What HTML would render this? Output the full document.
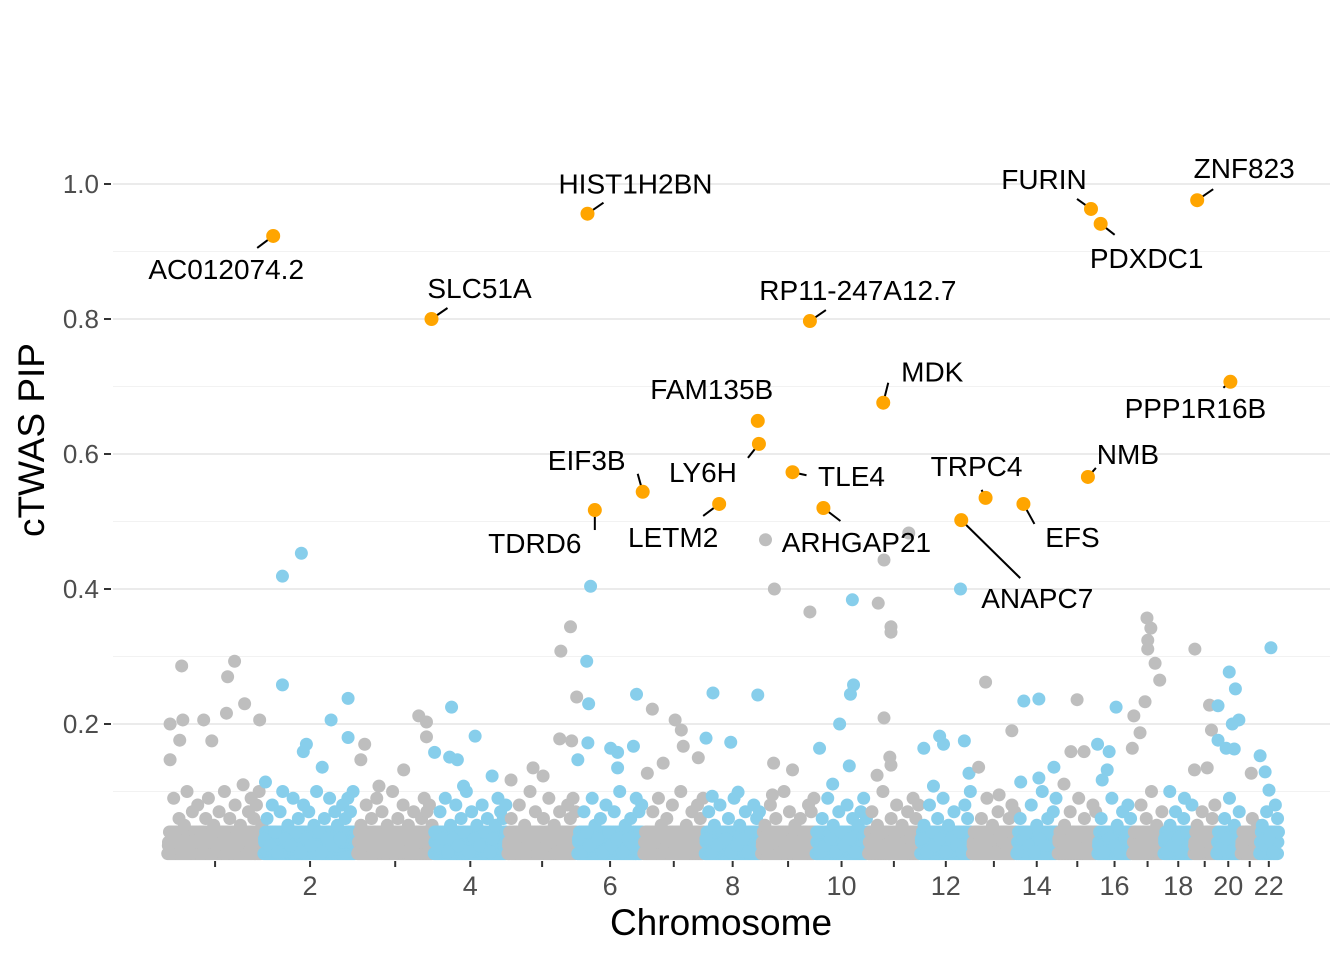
<!DOCTYPE html>
<html><head><meta charset="utf-8"><style>
body{margin:0;background:#fff;}
svg{display:block;font-family:"Liberation Sans",Arial,sans-serif;}
</style></head><body>
<svg id="chart" width="1344" height="960" xmlns="http://www.w3.org/2000/svg">
<g id="grid"></g>
<g id="bg"></g>
<g id="hl"></g>
<g id="axes"></g>
<text transform="translate(44,440) rotate(-90)" text-anchor="middle" font-size="37" fill="#000">cTWAS PIP</text>
<text x="721" y="935" text-anchor="middle" font-size="37" fill="#000">Chromosome</text>
</svg>
<script>
const chrLengths=[249,243,198,191,181,171,159,146,141,136,135,134,115,107,103,90,81,78,59,63,48,51];
const yTicks=[0.2,0.4,0.6,0.8,1.0];
const yTickLabels=["0.2","0.4","0.6","0.8","1.0"];
const xTickLabels=["","2","","4","","6","","8","","10","","12","","14","","16","","18","","20","","22"];
const geneNames=["AC012074.2","HIST1H2BN","SLC51A","RP11-247A12.7","FURIN","PDXDC1","ZNF823","PPP1R16B","MDK","FAM135B","LY6H","EIF3B","TDRD6","LETM2","TLE4","ARHGAP21","TRPC4","ANAPC7","EFS","NMB"];
const genePos=[275,1089,685,1665,2393,2418,2668,2754,1855,1530,1533,1232,1108,1430,1620,1700,2120,2057,2218,2385];
const genePip=[0.923,0.956,0.80,0.797,0.963,0.941,0.976,0.707,0.676,0.649,0.615,0.544,0.517,0.526,0.573,0.52,0.535,0.502,0.526,0.566];
const labelLayout=[[-47,43,-16,12],[48,-20,16,-11],[48,-21,16,-11],[48,-21,16,-11],[-47,-20,-14,-10],[46,44,14,11],[47,-22,16,-11],[-35,36,-7,6],[49,-21,5,-20],[-46,-22,0,0],[-56,38,-11,14],[-56,-22,-5,-18],[-60,43,0,20],[-46,43,-16,12],[59,14,14,3],[33,44,17,13],[-9,-22,-4,-8],[76,88,59,58],[49,43,11,20],[40,-13,8,-9]];
const bgPos=[38,175,157,201,8,41,95,116,240,154,33,8,
299,348,299,469,425,469,361,353,402,255,
652,672,672,512,502,613,549,
737,798,693,732,752,842,768,
1045,1020,1048,1017,891,948,974,
1097,1087,1061,1092,1216,1090,1149,1167,1208,1064,1167,
1257,1316,1332,1337,1285,1376,1244,
1414,1530,1396,1460,1479,1412,
1550,1573,1665,1571,1620,1568,
1775,1778,1770,1742,1690,1767,1724,
1921,1857,1842,1875,1875,1857,1872,1875,1839,
2055,2001,2065,1960,2011,2077,1985,
2120,2188,2102,2155,
2219,2258,2297,2211,2258,
2357,2341,2375,2323,
2458,2410,2440,2435,2422,
2538,2548,2540,2540,2559,2571,2533,2504,2520,2500,
2597,2635,
2662,2700,2705,2661,2694,
2751,2767,2722,2776,2759,2722,2743,2764,
2808,
2859,2831,2844,2854];
const bgPip=[.286,.293,.27,.23,.2,.206,.206,.175,.206,.216,.176,.147,
.419,.453,.258,.238,.206,.18,.17,.159,.136,.114,
.212,.203,.181,.17,.147,.132,.108,
.225,.182,.158,.151,.147,.123,.108,
.344,.308,.175,.178,.117,.135,.123,
.404,.293,.24,.23,.244,.172,.164,.158,.167,.147,.135,
.222,.206,.191,.167,.142,.15,.127,
.246,.243,.179,.173,.099,.093,
.473,.4,.366,.142,.132,.095,
.384,.258,.244,.2,.164,.138,.111,
.483,.443,.379,.344,.336,.209,.151,.139,.124,
.4,.182,.175,.164,.17,.127,.108,
.262,.19,.136,.095,
.234,.237,.136,.114,.12,
.236,.159,.159,.111,
.225,.17,.159,.132,.117,
.357,.342,.324,.311,.29,.265,.233,.212,.187,.164,
.1,.09,
.311,.228,.191,.132,.135,
.277,.252,.227,.206,.2,.176,.164,.163,
.127,
.313,.153,.129,.102];
const lowBand=[
"1 3 8 2 5 0 4 9 1 6 2 7 3 0 5 8 2 4 1 6 3 9 0 5 2 7 1 4 10 3 6 8 5 7 9 4",
"2 5 1 7 3 0 6 9 2 4 1 8 3 5 0 7 2 6 1 4 9 3 0 5 2 8 1 6 4 2 7 5 8 6 9 3",
"0 4 2 7 1 5 3 8 0 6 2 4 1 9 3 5 0 7 2 4 1 6 3 2 5 8 6 7 4",
"3 1 6 2 8 0 4 2 7 1 5 3 9 0 6 2 4 1 7 3 5 0 2 4 8 6 5 7",
"1 5 2 0 7 3 4 1 9 2 6 0 3 5 1 8 2 4 0 6 3 1 7 5 8 6",
"2 0 6 3 1 8 4 2 5 0 7 3 1 6 2 9 0 4 2 5 1 8 6 7",
"0 3 1 6 2 8 4 0 5 2 7 1 3 9 0 4 2 6 1 7 5 8",
"2 6 0 4 1 7 3 2 5 0 8 1 4 2 6 0 3 7 5 6",
"1 4 0 7 2 5 3 0 9 1 6 2 4 0 5 2 3 7 6 8",
"3 0 5 1 8 2 4 0 6 3 1 7 2 5 0 4 6 8 5",
"0 6 2 4 1 9 3 0 5 2 7 1 4 0 6 2 8 5 7",
"2 4 0 7 3 1 5 2 8 0 4 2 6 1 3 0 7 5 9",
"1 3 0 5 2 8 1 4 0 6 2 3 1 5 7 6",
"0 5 2 3 1 7 0 4 2 9 1 5 3 6 8",
"2 0 4 1 6 3 0 8 2 5 1 3 7 6",
"1 5 0 3 2 8 1 4 0 6 2 7 5",
"0 3 1 7 2 5 0 9 3 4 1 6",
"2 0 4 1 6 2 0 5 3 1 7",
"1 4 0 6 2 3 0 5 7",
"0 3 1 5 2 8 0 4 2 6",
"1 0 3 2 5 1 4",
"0 4 1 6 2 3 0 7 5"];
const floorRows=[0.008,0.025,0.04];

const NS="http://www.w3.org/2000/svg";
const chrStart=[];let acc=0;chrLengths.forEach(l=>{chrStart.push(acc);acc+=l;});
function xScale(v){return 167+v*1102/2854;}
function yScale(p){return 859-p*675;}
function chrOf(pos){for(let i=chrLengths.length-1;i>=0;i--)if(pos>=chrStart[i])return i;return 0;}
function colorOf(i){return i%2===0?"#BEBEBE":"#87CEEB";}
function mk(tag,attrs,parent){const e=document.createElementNS(NS,tag);for(const k in attrs)e.setAttribute(k,attrs[k]);parent.appendChild(e);return e;}

const grid=document.getElementById('grid');
[0.1,0.3,0.5,0.7,0.9].forEach(v=>{
  const l=mk('line',{x1:113,x2:1330,y1:yScale(v),y2:yScale(v),stroke:'#f2f2f2','stroke-width':1},grid);
  
  
});
yTicks.forEach(v=>{
  const l=mk('line',{x1:113,x2:1330,y1:yScale(v),y2:yScale(v),stroke:'#ebebeb','stroke-width':2},grid);
  
  
});

const bg=document.getElementById('bg');
lowBand.forEach((s,c)=>{
  floorRows.forEach((fy,r)=>{
    const n=Math.round(chrLengths[c]/(4+r));
    for(let i=0;i<n;i++){
      const pos=chrStart[c]+(i+0.5+0.3*r)/n*chrLengths[c]*0.98;
      const e=mk('circle',{cx:xScale(pos),cy:yScale(fy),r:6.5,fill:colorOf(c)},bg);
      
      
    }
  });
  const vals=s.trim().split(/\s+/).map(Number);
  vals.forEach((v,i)=>{
    const pos=chrStart[c]+(i+0.5)/vals.length*chrLengths[c];
    const e=mk('circle',{cx:xScale(pos),cy:yScale(v/100+0.01),r:6.5,fill:colorOf(c)},bg);
    
    
  });
});
bgPos.forEach((p,i)=>{
  const e=mk('circle',{cx:xScale(p),cy:yScale(bgPip[i]),r:6.5,fill:colorOf(chrOf(p))},bg);
  
  
});

const hl=document.getElementById('hl');
geneNames.forEach((g,i)=>{
  const cx=xScale(genePos[i]),cy=yScale(genePip[i]);const L=labelLayout[i];
  if(L[2]||L[3]){
    const s=mk('line',{x1:cx,y1:cy,x2:cx+L[2],y2:cy+L[3],stroke:'#000','stroke-width':2},hl);
    
    
  }
  const c=mk('circle',{cx:cx,cy:cy,r:7,fill:'#FFA500'},hl);
  
  
  const t=mk('text',{x:cx+L[0],y:cy+L[1],'text-anchor':'middle','font-size':28,fill:'#000'},hl);
  t.textContent=g;
  
  
});

const ax=document.getElementById('axes');
yTicks.forEach((v,i)=>{
  const l=mk('line',{x1:104,x2:111,y1:yScale(v),y2:yScale(v),stroke:'#333','stroke-width':2},ax);
  
  
  const t=mk('text',{x:99,y:yScale(v)+9,'text-anchor':'end','font-size':26,fill:'#4d4d4d'},ax);
  t.textContent=yTickLabels[i];
  
  
});
chrLengths.forEach((l,i)=>{
  const x=xScale(chrStart[i]+l/2);
  const tk=mk('line',{x1:x,x2:x,y1:861,y2:867,stroke:'#333','stroke-width':2},ax);
  
  
  if(xTickLabels[i]){
    const t=mk('text',{x:x,y:895,'text-anchor':'middle','font-size':27,fill:'#4d4d4d'},ax);
    t.textContent=xTickLabels[i];
    
    
  }
});
</script>
</body></html>
